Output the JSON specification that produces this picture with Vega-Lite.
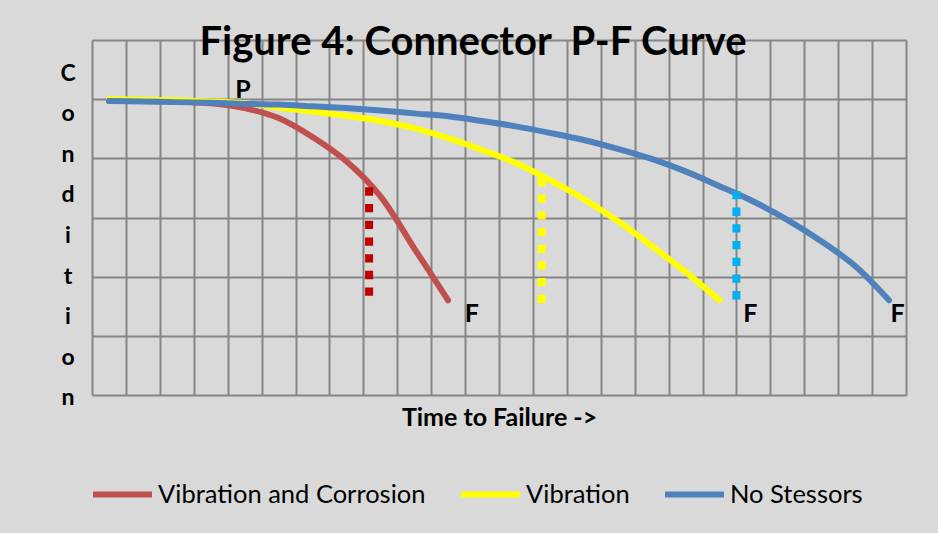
{
  "$schema": "https://vega.github.io/schema/vega-lite/v6.json",
  "autosize": {"type": "none"},
  "padding": {"left": 92, "top": 40, "right": 32, "bottom": 138},
  "width": 814,
  "height": 355,
  "background": "#d9d9d9",
  "title": {
    "text": "Figure 4: Connector\u00a0 P-F Curve",
    "font": "Lato",
    "fontSize": 40,
    "fontWeight": "bold",
    "color": "#000000",
    "anchor": "middle",
    "frame": "group",
    "baseline": "alphabetic",
    "offset": -40,
    "dx": -26,
    "dy": 15
  },
  "datasets": {
    "curves": [
      {"series": "Vibration and Corrosion", "t": 0.5, "c": 4.97},
      {"series": "Vibration and Corrosion", "t": 1.5, "c": 4.97},
      {"series": "Vibration and Corrosion", "t": 2.5, "c": 4.96},
      {"series": "Vibration and Corrosion", "t": 3.5, "c": 4.93},
      {"series": "Vibration and Corrosion", "t": 4.5, "c": 4.85},
      {"series": "Vibration and Corrosion", "t": 5.5, "c": 4.68},
      {"series": "Vibration and Corrosion", "t": 6.5, "c": 4.36},
      {"series": "Vibration and Corrosion", "t": 7.5, "c": 3.95},
      {"series": "Vibration and Corrosion", "t": 8.5, "c": 3.36},
      {"series": "Vibration and Corrosion", "t": 9.5, "c": 2.48},
      {"series": "Vibration and Corrosion", "t": 10.5, "c": 1.6},
      {"series": "Vibration", "t": 0.5, "c": 5.0},
      {"series": "Vibration", "t": 1.5, "c": 4.99},
      {"series": "Vibration", "t": 2.5, "c": 4.98},
      {"series": "Vibration", "t": 3.5, "c": 4.96},
      {"series": "Vibration", "t": 4.5, "c": 4.93},
      {"series": "Vibration", "t": 5.5, "c": 4.86},
      {"series": "Vibration", "t": 6.5, "c": 4.79},
      {"series": "Vibration", "t": 7.5, "c": 4.72},
      {"series": "Vibration", "t": 8.5, "c": 4.63},
      {"series": "Vibration", "t": 9.5, "c": 4.51},
      {"series": "Vibration", "t": 10.5, "c": 4.34},
      {"series": "Vibration", "t": 11.5, "c": 4.14},
      {"series": "Vibration", "t": 12.5, "c": 3.92},
      {"series": "Vibration", "t": 13.5, "c": 3.63},
      {"series": "Vibration", "t": 14.5, "c": 3.31},
      {"series": "Vibration", "t": 15.5, "c": 2.94},
      {"series": "Vibration", "t": 16.5, "c": 2.52},
      {"series": "Vibration", "t": 17.5, "c": 2.08},
      {"series": "Vibration", "t": 18.5, "c": 1.6},
      {"series": "No Stessors", "t": 0.5, "c": 4.97},
      {"series": "No Stessors", "t": 1.5, "c": 4.96},
      {"series": "No Stessors", "t": 2.5, "c": 4.95},
      {"series": "No Stessors", "t": 3.5, "c": 4.94},
      {"series": "No Stessors", "t": 4.5, "c": 4.92},
      {"series": "No Stessors", "t": 5.5, "c": 4.91},
      {"series": "No Stessors", "t": 6.5, "c": 4.88},
      {"series": "No Stessors", "t": 7.5, "c": 4.85},
      {"series": "No Stessors", "t": 8.5, "c": 4.81},
      {"series": "No Stessors", "t": 9.5, "c": 4.76},
      {"series": "No Stessors", "t": 10.5, "c": 4.71},
      {"series": "No Stessors", "t": 11.5, "c": 4.63},
      {"series": "No Stessors", "t": 12.5, "c": 4.54},
      {"series": "No Stessors", "t": 13.5, "c": 4.43},
      {"series": "No Stessors", "t": 14.5, "c": 4.31},
      {"series": "No Stessors", "t": 15.5, "c": 4.16},
      {"series": "No Stessors", "t": 16.5, "c": 3.99},
      {"series": "No Stessors", "t": 17.5, "c": 3.78},
      {"series": "No Stessors", "t": 18.5, "c": 3.53},
      {"series": "No Stessors", "t": 19.5, "c": 3.27},
      {"series": "No Stessors", "t": 20.5, "c": 2.96},
      {"series": "No Stessors", "t": 21.5, "c": 2.6},
      {"series": "No Stessors", "t": 22.5, "c": 2.18},
      {"series": "No Stessors", "t": 23.5, "c": 1.6}
    ],
    "markers": [
      {"series": "Vibration and Corrosion", "t": 8.17, "top": 3.51, "bottom": 1.64},
      {"series": "Vibration", "t": 13.26, "top": 3.67, "bottom": 1.55},
      {"series": "No Stessors", "t": 19.0, "top": 3.45, "bottom": 1.6}
    ],
    "labels": [
      {"label": "P", "t": 4.45, "c": 5.02},
      {"label": "F", "t": 11.2, "c": 1.23},
      {"label": "F", "t": 19.41, "c": 1.23},
      {"label": "F", "t": 23.75, "c": 1.23}
    ]
  },
  "encoding": {
    "x": {
      "field": "t",
      "type": "quantitative",
      "scale": {"domain": [0, 24], "nice": false, "zero": false},
      "axis": {
        "values": [0,1,2,3,4,5,6,7,8,9,10,11,12,13,14,15,16,17,18,19,20,21,22,23,24],
        "grid": true,
        "labels": false,
        "ticks": false,
        "domain": false,
        "title": "Time to Failure ->",
        "titleFont": "Lato",
        "titleFontSize": 25,
        "titleFontWeight": "bold",
        "titleColor": "#000000",
        "titleBaseline": "alphabetic",
        "titleY": 30
      }
    },
    "y": {
      "field": "c",
      "type": "quantitative",
      "scale": {"domain": [0, 6], "nice": false, "zero": false},
      "axis": {
        "values": [0,1,2,3,4,5,6],
        "grid": true,
        "labels": false,
        "ticks": false,
        "domain": false,
        "title": ["C","o","n","d","i","t","i","o","n"],
        "titleAngle": 0,
        "titleAlign": "center",
        "titleBaseline": "alphabetic",
        "titleX": -24.5,
        "titleY": 40,
        "titleLineHeight": 40.6,
        "titleFont": "Lato",
        "titleFontSize": 23,
        "titleFontWeight": "bold",
        "titleColor": "#000000"
      }
    }
  },
  "layer": [
    {
      "data": {"name": "curves"},
      "mark": {"type": "line", "strokeWidth": 6, "strokeCap": "round", "strokeJoin": "round", "interpolate": "catmull-rom"},
      "encoding": {
        "color": {
          "field": "series",
          "type": "nominal",
          "sort": null,
          "scale": {
            "domain": ["Vibration and Corrosion", "Vibration", "No Stessors"],
            "range": ["#C0504D", "#FFFF00", "#4F81BD"]
          },
          "legend": {
            "title": null,
            "orient": "none",
            "direction": "horizontal",
            "legendX": -2,
            "legendY": 422,
            "padding": 0,
            "symbolType": "stroke",
            "symbolSize": 3481,
            "symbolStrokeWidth": 6,
            "labelFont": "Lato",
            "labelFontSize": 25.5,
            "labelColor": "#000000",
            "labelLimit": 400,
            "labelOffset": 3,
            "columnPadding": 23
          }
        }
      }
    },
    {
      "data": {"name": "markers"},
      "mark": {"type": "rule", "strokeWidth": 8, "strokeDash": [8.3, 8.4], "strokeCap": "butt"},
      "encoding": {
        "y": {"field": "top", "type": "quantitative"},
        "y2": {"field": "bottom"},
        "stroke": {
          "field": "series",
          "type": "nominal",
          "scale": {
            "domain": ["Vibration and Corrosion", "Vibration", "No Stessors"],
            "range": ["#C00000", "#FFFF00", "#00B0F0"]
          },
          "legend": null
        }
      }
    },
    {
      "data": {"name": "labels"},
      "mark": {"type": "text", "font": "Lato", "fontSize": 25, "fontWeight": "bold", "color": "#000000", "align": "center", "baseline": "alphabetic"},
      "encoding": {
        "text": {"field": "label", "type": "nominal"}
      }
    }
  ],
  "config": {
    "font": "Lato",
    "view": {"stroke": null},
    "axis": {"gridColor": "#868686", "gridWidth": 2, "gridOpacity": 1}
  }
}
